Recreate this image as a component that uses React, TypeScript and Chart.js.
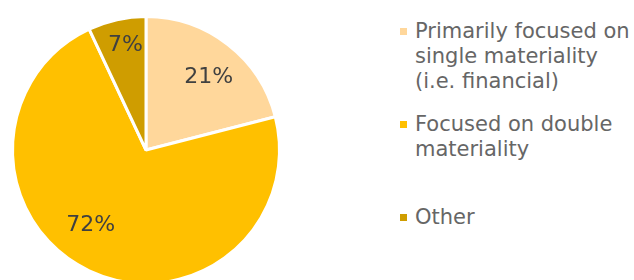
import React, { useEffect, useRef } from "react";
import { Chart, registerables } from "chart.js";

Chart.register(...registerables);

const categories = [
  "Primarily focused on\nsingle materiality\n(i.e. financial)",
  "Focused on double\nmateriality",
  "Other",
];
const values = [21, 72, 7];
const valueLabels = ["21%", "72%", "7%"];
const colors = ["#FFD79B", "#FFC000", "#CF9D00"];

const FONT = "'DejaVu Sans', Verdana, sans-serif";

const labelPlugin = {
  id: "sliceLabels",
  afterDatasetsDraw(chart: any) {
    const ctx = chart.ctx;
    const meta = chart.getDatasetMeta(0);
    const fractions = [0.72, 0.7, 0.8];
    const angleShift = [3, 11, 1.5];
    ctx.save();
    ctx.font = `22px ${FONT}`;
    ctx.fillStyle = "#404040";
    ctx.textAlign = "center";
    ctx.textBaseline = "middle";
    meta.data.forEach((arc: any, i: number) => {
      const p = arc.getProps(["x", "y", "startAngle", "endAngle", "outerRadius"], true);
      const mid = (p.startAngle + p.endAngle) / 2 + (angleShift[i] * Math.PI) / 180;
      const r = p.outerRadius * fractions[i];
      ctx.fillText(valueLabels[i], p.x + Math.cos(mid) * r, p.y + Math.sin(mid) * r);
    });
    ctx.restore();
  },
};

export default function App() {
  const ref = useRef<HTMLCanvasElement>(null);
  useEffect(() => {
    document.body.style.margin = "0";
    document.body.style.overflow = "hidden";
    const chart = new Chart(ref.current!, {
      type: "pie",
      data: {
        labels: categories,
        datasets: [
          {
            data: values,
            backgroundColor: colors,
            borderColor: "#FFFFFF",
            borderWidth: 3,
          },
        ],
      },
      options: {
        animation: false,
        responsive: false,
        layout: { padding: { left: 11, right: 11, top: 15, bottom: 15 } },
        plugins: {
          legend: { display: false },
          tooltip: { enabled: false },
        },
      },
      plugins: [labelPlugin],
    });
    return () => chart.destroy();
  }, []);

  const tops = [19, 112, 205];
  return (
    <div style={{ position: "relative", width: 634, height: 280, overflow: "hidden", background: "#fff" }}>
      <canvas ref={ref} width={292} height={300} style={{ position: "absolute", left: 0, top: 0 }} />
      {categories.map((c, i) => (
        <div
          key={i}
          style={{
            position: "absolute",
            left: 400,
            top: tops[i],
            display: "flex",
            alignItems: "flex-start",
            fontFamily: FONT,
            fontSize: 21,
            lineHeight: "25px",
            color: "#666666",
            whiteSpace: "pre",
          }}
        >
          <span
            style={{
              display: "inline-block",
              width: 7,
              height: 7,
              background: colors[i],
              marginTop: 9,
              marginRight: 8,
              flex: "none",
            }}
          />
          <span>{c}</span>
        </div>
      ))}
    </div>
  );
}
